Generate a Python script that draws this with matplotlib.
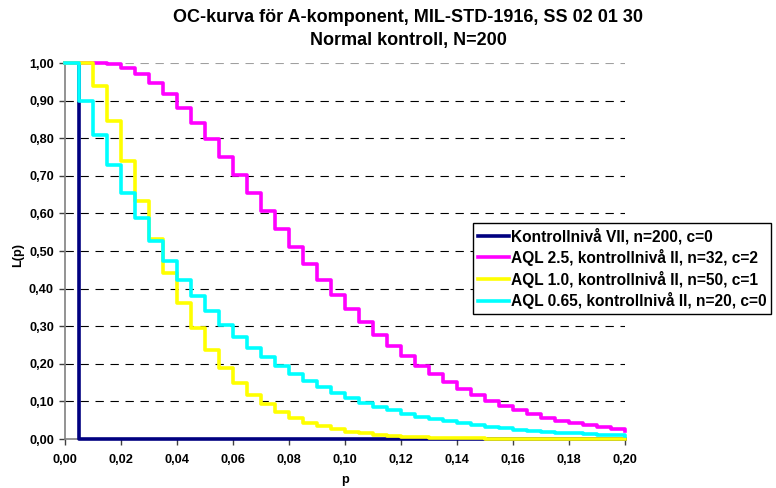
import matplotlib
matplotlib.use('Agg')
import matplotlib.pyplot as plt
from matplotlib.ticker import FuncFormatter, MultipleLocator

plt.rcParams['font.family'] = ['Liberation Sans', 'DejaVu Sans']
plt.rcParams['font.weight'] = 'bold'

# felandel p = D/200 (N=200)
p = [0.000, 0.005, 0.010, 0.015, 0.020, 0.025, 0.030, 0.035, 0.040, 0.045,
     0.050, 0.055, 0.060, 0.065, 0.070, 0.075, 0.080, 0.085, 0.090, 0.095,
     0.100, 0.105, 0.110, 0.115, 0.120, 0.125, 0.130, 0.135, 0.140, 0.145,
     0.150, 0.155, 0.160, 0.165, 0.170, 0.175, 0.180, 0.185, 0.190, 0.195,
     0.200]

L_vii = [1.0, 0.0, 0.0, 0.0, 0.0, 0.0, 0.0, 0.0, 0.0, 0.0,
         0.0, 0.0, 0.0, 0.0, 0.0, 0.0, 0.0, 0.0, 0.0, 0.0,
         0.0, 0.0, 0.0, 0.0, 0.0, 0.0, 0.0, 0.0, 0.0, 0.0,
         0.0, 0.0, 0.0, 0.0, 0.0, 0.0, 0.0, 0.0, 0.0, 0.0,
         0.0]

L_aql25 = [1.0, 1.0, 1.0, 0.9962, 0.9866, 0.9701, 0.9467, 0.9169, 0.8815, 0.8414,
           0.7976, 0.7512, 0.7033, 0.6546, 0.6060, 0.5581, 0.5116, 0.4667, 0.4240, 0.3835,
           0.3456, 0.3102, 0.2774, 0.2473, 0.2196, 0.1945, 0.1716, 0.1510, 0.1325, 0.1159,
           0.1011, 0.0879, 0.0763, 0.0660, 0.0570, 0.0490, 0.0421, 0.0361, 0.0308, 0.0263,
           0.0224]

L_aql10 = [1.0, 1.0, 0.9384, 0.8452, 0.7394, 0.6328, 0.5324, 0.4418, 0.3623, 0.2942,
           0.2368, 0.1892, 0.1501, 0.1183, 0.0928, 0.0723, 0.0561, 0.0433, 0.0333, 0.0255,
           0.0194, 0.0148, 0.0112, 0.0084, 0.0063, 0.0047, 0.0035, 0.0026, 0.0019, 0.0014,
           0.0011, 0.0008, 0.0006, 0.0004, 0.0003, 0.0002, 0.0002, 0.0001, 0.0001, 0.0001,
           0.0000]

L_aql065 = [1.0, 0.9000, 0.8095, 0.7278, 0.6539, 0.5872, 0.5270, 0.4726, 0.4236, 0.3795,
            0.3398, 0.3040, 0.2718, 0.2429, 0.2169, 0.1936, 0.1727, 0.1539, 0.1371, 0.1220,
            0.1085, 0.0965, 0.0857, 0.0761, 0.0675, 0.0598, 0.0530, 0.0469, 0.0415, 0.0367,
            0.0324, 0.0286, 0.0252, 0.0222, 0.0195, 0.0172, 0.0151, 0.0133, 0.0116, 0.0102,
            0.0089]

serier = [
    (L_vii, '#000080', 'Kontrollnivå VII, n=200, c=0'),
    (L_aql25, '#FF00FF', 'AQL 2.5, kontrollnivå II, n=32, c=2'),
    (L_aql10, '#FFFF00', 'AQL 1.0, kontrollnivå II, n=50, c=1'),
    (L_aql065, '#00FFFF', 'AQL 0.65, kontrollnivå II, n=20, c=0'),
]

fig = plt.figure(figsize=(7.76, 4.88), dpi=100)
ax = fig.add_axes([65/776, 1 - 439/488, 560/776, 376/488])

for y in [0.1, 0.2, 0.3, 0.4, 0.5, 0.6, 0.7, 0.8, 0.9, 1.0]:
    ax.axhline(y, color='black' if y < 1 else '#a0a0a0', lw=0.8,
               linestyle=(0, (7.5, 6)), zorder=1)

linjer = []
for i, (vals, farg, namn) in enumerate(serier):
    ln, = ax.plot(p, vals, drawstyle='steps-post', color=farg, lw=2.6,
                  label=namn, clip_on=False, zorder=3 + i)
    linjer.append(ln)

ax.set_xlim(0, 0.20)
ax.set_ylim(0, 1.0)
ax.xaxis.set_major_locator(MultipleLocator(0.02))
ax.yaxis.set_major_locator(MultipleLocator(0.10))
komma = FuncFormatter(lambda v, pos: f'{v:.2f}'.replace('.', ','))
ax.xaxis.set_major_formatter(komma)
ax.yaxis.set_major_formatter(komma)

for s in ['top', 'right']:
    ax.spines[s].set_visible(False)
for s in ['left', 'bottom']:
    ax.spines[s].set_color('#808080')
    ax.spines[s].set_linewidth(1.2)
ax.tick_params(direction='out', length=4, width=1, color='#404040',
               labelsize=9.2)
ax.tick_params(axis='x', pad=7)
ax.tick_params(axis='y', pad=4)

ax.set_xlabel('p', fontsize=9.2, fontweight='bold', va='center')
ax.xaxis.set_label_coords(0.5, -(480 - 439) / 376)
ax.set_ylabel('L(p)', fontsize=9.2, fontweight='bold', va='center')
ax.yaxis.set_label_coords((18 - 65) / 560, 0.49)

fig.text(408/776, 1 - 18/488, 'OC-kurva för A-komponent, MIL-STD-1916, SS 02 01 30',
         ha='center', va='center', fontsize=13, fontweight='bold')
fig.text(408/776, 1 - 41/488, 'Normal kontroll, N=200',
         ha='center', va='center', fontsize=13, fontweight='bold')

leg = fig.legend(handles=linjer, loc='upper left',
                 bbox_to_anchor=(473/776, 1 - 223/488), borderaxespad=0,
                 fancybox=False, framealpha=1, edgecolor='black',
                 prop={'size': 11.2, 'weight': 'bold'},
                 handlelength=2.0, handletextpad=0.15, labelspacing=0.3,
                 borderpad=0.3)
leg.get_frame().set_linewidth(1.0)
for h in leg.get_lines():
    h.set_linewidth(2.6)

fig.savefig('out.png', dpi=100)
